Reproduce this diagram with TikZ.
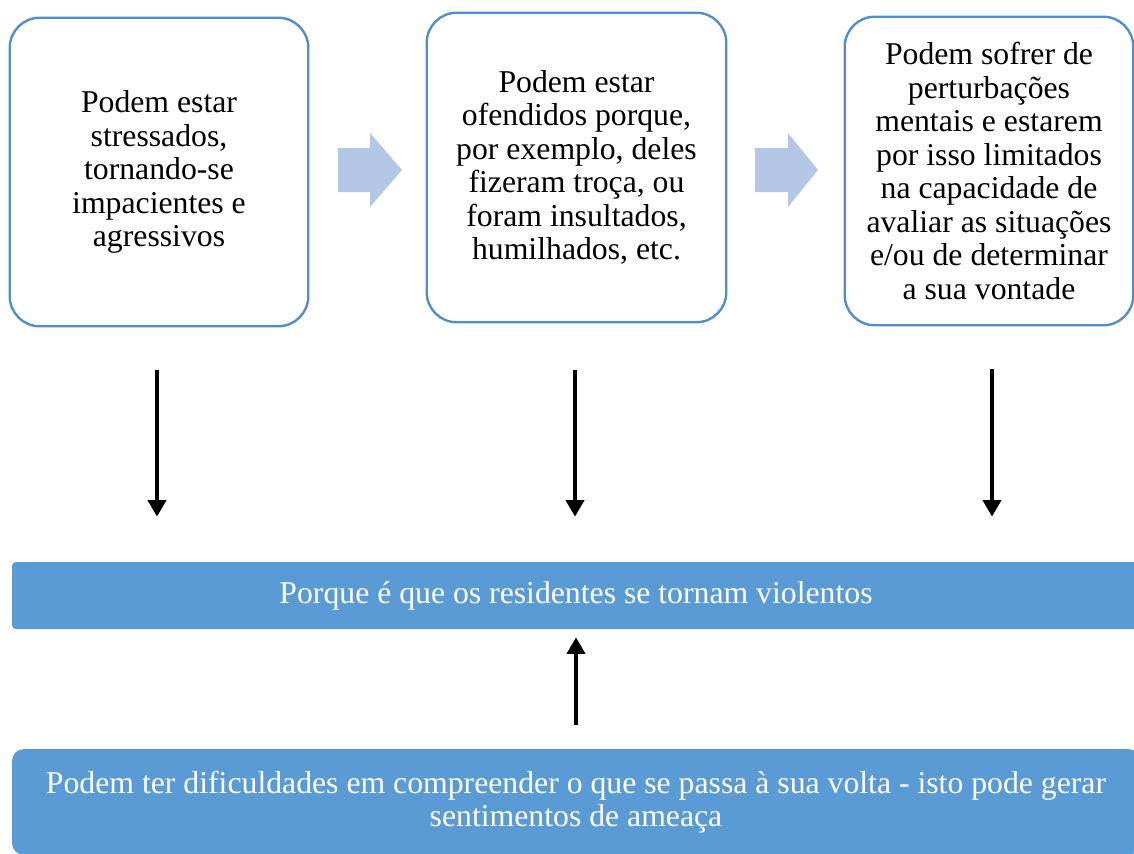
\documentclass[tikz,border=0pt]{standalone}
\usepackage{fontspec}
\setmainfont{Liberation Serif}
\usetikzlibrary{arrows.meta,calc}
\definecolor{boxline}{RGB}{84,141,204}
\definecolor{barfill}{RGB}{91,155,213}
\definecolor{chev}{RGB}{180,199,231}
\begin{document}
\begin{tikzpicture}[x=0.75pt,y=-0.75pt,
  txt/.style={font=\fontsize{23.8}{25.1}\selectfont},
  box/.style={txt, align=center, inner sep=0pt, text=black},
  frame/.style={draw=boxline, line width=1.8pt, rounded corners=22.5pt},
  bar/.style={txt, fill=barfill, draw=none, align=center, text=white, inner sep=0pt},
  link/.style={line width=3pt, -{Triangle[width=13.5pt,length=12.5pt]}},
  chevron/.style={fill=chev}]
\useasboundingbox (0,0) rectangle (1134,853);
\node[box, minimum width=298*0.75pt, minimum height=308*0.75pt] (b1) at (159,172)
  {Podem estar\\stressados,\\tornando-se\\impacientes e\\agressivos};
\node[box, minimum width=299*0.75pt, minimum height=309*0.75pt] (b2) at (576.5,167.5)
  {Podem estar\\ofendidos porque,\\por exemplo, deles\\fizeram troça, ou\\foram insultados,\\humilhados, etc.};
\node[box, minimum width=288*0.75pt, minimum height=308*0.75pt] (b3) at (989,171)
  {Podem sofrer de\\perturbações\\mentais e estarem\\por isso limitados\\na capacidade de\\avaliar as situações\\e/ou de determinar\\a sua vontade};
\draw[frame] (b1.north west) rectangle (b1.south east);
\draw[frame] (b2.north west) rectangle (b2.south east);
\draw[frame] (b3.north west) rectangle (b3.south east);
\node[bar, rounded corners=3pt, minimum width=1128*0.75pt, minimum height=67*0.75pt] (bar1) at (576,595.5)
  {Porque é que os residentes se tornam violentos};
\node[bar, rounded corners=9pt, minimum width=1128*0.75pt, minimum height=106*0.75pt] (bar2) at (576,802)
  {Podem ter dificuldades em compreender o que se passa à sua volta - isto pode gerar\\sentimentos de ameaça};
\fill[chevron] (338,148) -- (370,148) -- (370,133) -- (402,170) -- (370,207) -- (370,192) -- (338,192) -- cycle;
\fill[chevron] (755,148) -- (788,148) -- (788,133) -- (818,170) -- (788,207) -- (788,192) -- (755,192) -- cycle;
\draw[link] ($(b1.south)+(-2,44)$) -- ($(b1.south |- bar1.north)+(-2,-45)$);
\draw[link] ($(b2.south)+(-1.5,48)$) -- ($(b2.south |- bar1.north)+(-1.5,-45)$);
\draw[link] ($(b3.south)+(3,44)$) -- ($(b3.south |- bar1.north)+(3,-45)$);
\draw[link] ($(bar2.north)+(0,-24)$) -- ($(bar1.south)+(0,8)$);
\end{tikzpicture}
\end{document}
